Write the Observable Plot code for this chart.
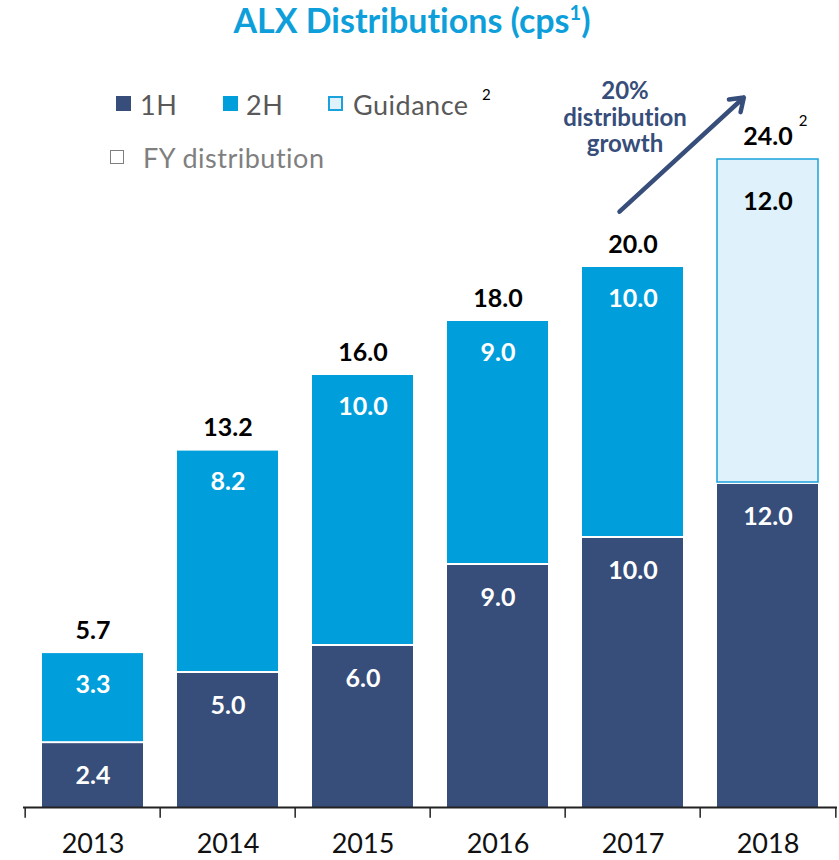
<!DOCTYPE html>
<html><head><meta charset="utf-8">
<script src="https://cdn.jsdelivr.net/npm/d3@7"></script>
<script src="https://cdn.jsdelivr.net/npm/@observablehq/plot@0.6"></script>
<style>
body{margin:0;background:#fff;font-family:Lato,"Open Sans",sans-serif;font-variant-ligatures:none;}
#wrap{position:relative;width:839px;height:860px;overflow:hidden;}
#chart{position:absolute;left:0;top:0;}
#chart svg{font-variant-ligatures:none;}
.abs{position:absolute;white-space:nowrap;line-height:1;}
#title{left:0;width:824px;top:3px;text-align:center;font-size:34px;font-weight:bold;color:#0E9FDA;}
#title sup{font-size:20px;vertical-align:top;position:relative;top:-1px;}
.sw{position:absolute;width:15px;height:15px;box-sizing:border-box;}
.lt{font-size:27px;letter-spacing:0.5px;color:#595959;}
</style></head>
<body>
<div id="wrap">
  <div id="chart"></div>
  <div id="title" class="abs">ALX Distributions (cps<sup>1</sup>)</div>
  <div class="sw" style="left:116px;top:96px;background:#374D7A"></div>
  <div class="abs lt" style="left:140px;top:91px">1H</div>
  <div class="sw" style="left:223px;top:96px;background:#009FDB"></div>
  <div class="abs lt" style="left:246px;top:91px">2H</div>
  <div class="sw" style="left:328px;top:96px;background:#DFF1FA;border:2px solid #1BA1DC"></div>
  <div class="abs lt" style="left:353px;top:91px">Guidance</div>
  <div class="abs" style="left:482px;top:87px;font-size:15px;color:#000">2</div>
  <div class="sw" style="left:110px;top:150px;width:14px;height:14px;border:1.5px solid #7f7f7f;background:#fff"></div>
  <div class="abs lt" style="left:143px;top:144px;color:#7f7f7f">FY distribution</div>
</div>
<script>
const years = ["2013", "2014", "2015", "2016", "2017", "2018"];
const firstHalf = [2.4, 5.0, 6.0, 9.0, 10.0, 12.0];
const secondHalf = [3.3, 8.2, 10.0, 9.0, 10.0, null];
const guidance = [null, null, null, null, null, 12.0];
const fyTotal = [5.7, 13.2, 16.0, 18.0, 20.0, 24.0];

const h1Rows = years.map((y, i) => ({year: y, y1: 0, y2: firstHalf[i], v: firstHalf[i]}));
const h2Rows = years.map((y, i) => ({year: y, y1: firstHalf[i], y2: firstHalf[i] + secondHalf[i], v: secondHalf[i]})).filter(d => d.v != null);
const gRows = years.map((y, i) => ({year: y, y1: firstHalf[i], y2: firstHalf[i] + guidance[i], v: guidance[i]})).filter(d => d.v != null);
const totRows = years.map((y, i) => ({year: y, total: fyTotal[i]}));

const W = 839, H = 860, mL = 23, mR = 2;
const step = (W - mL - mR) / years.length;
const navy = "#374D7A";

const chart = Plot.plot({
  width: W, height: H,
  marginLeft: mL, marginRight: mR, marginTop: 159, marginBottom: 53,
  style: {fontFamily: "Lato, 'Open Sans', sans-serif", background: "transparent", overflow: "visible"},
  x: {domain: years, paddingInner: 0.25, paddingOuter: 0.125, axis: null},
  y: {domain: [0, 24], axis: null},
  marks: [
    Plot.barY(h1Rows, {x: "year", y1: "y1", y2: "y2", fill: navy, insetTop: 1}),
    Plot.barY(h2Rows, {x: "year", y1: "y1", y2: "y2", fill: "#009FDB", insetBottom: 1}),
    Plot.barY(gRows, {x: "year", y1: "y1", y2: "y2", fill: "#DFF1FA", stroke: "#1BA1DC", strokeWidth: 1.5, insetBottom: 1}),
    Plot.text(h1Rows, {x: "year", y: "y2", text: d => d.v.toFixed(1), dy: 33, fill: "white", fontWeight: "bold", fontSize: 25}),
    Plot.text(h2Rows, {x: "year", y: "y2", text: d => d.v.toFixed(1), dy: 31, fill: "white", fontWeight: "bold", fontSize: 25}),
    Plot.text(gRows, {x: "year", y: "y2", text: d => d.v.toFixed(1), dy: 42, fill: "black", fontWeight: "bold", fontSize: 25}),
    Plot.text(totRows, {x: "year", y: "total", text: d => d.total.toFixed(1), dy: -23, fill: "black", fontWeight: "bold", fontSize: 25}),
    Plot.text(gRows, {x: "year", y: d => d.y2, text: () => "2", dx: 35, dy: -38, fill: "black", fontSize: 15}),
    Plot.ruleY([0], {stroke: "#222", strokeWidth: 1.8}),
    Plot.ruleX(years, {x: d => d, dx: -step / 2, y1: 0, y2: -0.4, stroke: "#222", strokeWidth: 1.5}),
    Plot.ruleX([years[years.length - 1]], {x: d => d, dx: step / 2, y1: 0, y2: -0.4, stroke: "#222", strokeWidth: 1.5}),
    Plot.text(years, {x: d => d, y: 0, dy: 37, text: d => d, fill: "#111", fontSize: 27}),
    Plot.arrow([{a: "2017", b: "2018"}], {x1: "a", x2: "b", y1: 22.07, y2: 26.66, dx: -13.5, insetEnd: 14.5, stroke: navy, strokeWidth: 4.5, headLength: 5, headAngle: 70}),
    Plot.text([{a: "2017"}], {x: "a", y: 25.56, dx: -8, text: () => "20%\ndistribution\ngrowth", lineAnchor: "middle", lineHeight: 1.1, fill: navy, fontWeight: "bold", fontSize: 24})
  ]
});
document.getElementById("chart").appendChild(chart);
</script>
</body></html>
